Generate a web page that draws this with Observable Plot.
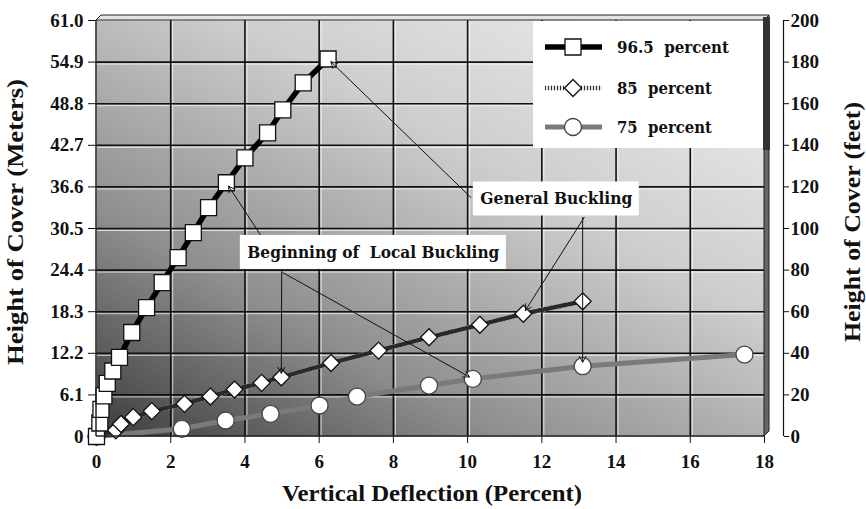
<!DOCTYPE html>
<html><head><meta charset="utf-8">
<script src="https://cdn.jsdelivr.net/npm/d3@7"></script>
<script src="https://cdn.jsdelivr.net/npm/@observablehq/plot@0.6"></script>
<style>html,body{margin:0;padding:0;background:#fff;}</style>
</head><body><div id="chart"></div>
<script>
// ---------- data (x: vertical deflection %, y: height of cover in feet) ----------
const x965 = [0, 0.09, 0.12, 0.2, 0.29, 0.44, 0.62, 0.95, 1.35, 1.77, 2.2, 2.61, 3.02, 3.5, 4.0, 4.61, 5.02, 5.57, 6.24];
const y965 = [0, 6.5, 13, 19.5, 25.5, 31.5, 38, 50, 62, 74, 86, 98, 110, 122, 134, 146, 157, 170, 181.5];
const x85 = [0, 0.52, 0.66, 0.99, 1.49, 2.37, 3.07, 3.72, 4.45, 4.98, 6.32, 7.6, 8.96, 10.33, 11.5, 13.1];
const y85 = [0, 3, 6, 9.3, 12.2, 15.7, 19.2, 22.6, 25.8, 28.5, 35.3, 41.3, 47.7, 53.7, 59, 65];
const x75 = [0, 2.3, 3.48, 4.69, 6.01, 7.02, 8.96, 10.14, 13.1, 17.46];
const y75 = [0, 3.7, 7.7, 10.9, 14.9, 19.2, 24.5, 27.7, 33.8, 39.4];
const seriesNames = ["96.5  percent", "85  percent", "75  percent"];

const xTicks = [0, 2, 4, 6, 8, 10, 12, 14, 16, 18];
const feetTicks = [0, 20, 40, 60, 80, 100, 120, 140, 160, 180, 200];
const meterLabels = ["0", "6.1", "12.2", "18.3", "24.4", "30.5", "36.6", "42.7", "48.8", "54.9", "61.0"];
const feetLabels = ["0", "20", "40", "60", "80", "100", "120", "140", "160", "180", "200"];
const gridX = [2, 4, 6, 8, 10, 12, 14, 16];
const gridFt = [20, 40, 60, 80, 100, 120, 140, 160, 180];

const xTitle = "Vertical Deflection (Percent)";
const yLeftTitle = "Height of Cover (Meters)";
const yRightTitle = "Height of Cover (feet)";

// annotations (positions in data units)
const noteText = ["General Buckling", "Beginning of  Local Buckling"];
const noteX = [12.39, 7.46];
const noteY = [114.2, 88.5];
// arrows: start point (data units) and target point (series, index)
const arrowFromX = [10.09, 13.14, 13.1, 4.43, 4.99, 5.02];
const arrowFromY = [114.9, 105.3, 105.3, 96.6, 79.3, 78.8];
const arrowToSeries = ["96.5", "85", "75", "96.5", "85", "75"];
const arrowToIndex = [18, 14, 8, 13, 9, 7];

// ---------- build ----------
const SERIF = "Liberation Serif, Times New Roman, Tinos, Times, serif";
const NOTEFONT = "DejaVu Serif, serif";
const mk = (xs, ys, s) => xs.map((x, i) => ({x, y: ys[i], s}));
const d965 = mk(x965, y965, "96.5"), d85 = mk(x85, y85, "85"), d75 = mk(x75, y75, "75");
const bySeries = {"96.5": d965, "85": d85, "75": d75};
const arrows = arrowFromX.map((x1, i) => {
  const t = bySeries[arrowToSeries[i]][arrowToIndex[i]];
  return {x1, y1: arrowFromY[i], x2: t.x, y2: t.y};
});
const notes = noteText.map((text, i) => ({text, x: noteX[i], y: noteY[i]}));

const squareSym = {draw(ctx, size) { const r = Math.sqrt(size / Math.PI); ctx.rect(-r, -r, 2 * r, 2 * r); }};
const diamondSym = {draw(ctx, size) { const r = Math.sqrt(size / Math.PI); ctx.moveTo(0, -r); ctx.lineTo(r, 0); ctx.lineTo(0, r); ctx.lineTo(-r, 0); ctx.closePath(); }};

const style965 = {line: {stroke: "#000", strokeWidth: 5.5}, dot: {symbol: squareSym, r: 8, fill: "#fff", stroke: "#111", strokeWidth: 1.3}};
const style85 = {under: {stroke: "#e6e6e6", strokeWidth: 4.5}, line: {stroke: "#2a2a2a", strokeWidth: 4.5, strokeDasharray: "1,2"}, dot: {symbol: diamondSym, r: 8.5, fill: "#fff", stroke: "#111", strokeWidth: 1.3}};
const style75 = {line: {stroke: "#7a7a7a", strokeWidth: 5}, dot: {symbol: "circle", r: 8.5, fill: "#fff", stroke: "#444", strokeWidth: 1.3}};

const TICKFONT = 19;
const plot = Plot.plot({
  width: 866, height: 509,
  marginLeft: 96, marginRight: 102, marginTop: 20, marginBottom: 73,
  x: {domain: [0, 18]},
  y: {domain: [0, 200]},
  style: {fontFamily: SERIF, fontSize: "19px", fontWeight: "bold", background: "#fff", color: "#111", overflow: "visible"},
  marks: [
    Plot.frame({fill: "url(#bgGrad)", stroke: "none"}),
    Plot.ruleY(gridFt, {stroke: "#fff", strokeOpacity: 0.7, strokeWidth: 1, dy: 2}),
    Plot.ruleX(gridX, {stroke: "#fff", strokeOpacity: 0.7, strokeWidth: 1, dx: 2}),
    Plot.ruleY(gridFt, {stroke: "#111", strokeWidth: 1.6}),
    Plot.ruleX(gridX, {stroke: "#111", strokeWidth: 1.6}),
    Plot.axisY({anchor: "left", ticks: feetTicks, tickFormat: d => meterLabels[feetTicks.indexOf(d)], tickSize: 8, tickPadding: 5, fontSize: TICKFONT, label: null}),
    Plot.axisY({anchor: "right", ticks: feetTicks, tickFormat: d => feetLabels[feetTicks.indexOf(d)], tickSize: 5, tickPadding: 2, fontSize: TICKFONT, dx: 19, label: null}),
    Plot.ruleX([18], {dx: 19, stroke: "#111", strokeWidth: 1.2}),
    Plot.axisX({ticks: xTicks, tickSize: 7, tickPadding: 11, fontSize: TICKFONT, label: null}),
    Plot.line(d75, {x: "x", y: "y", ...style75.line}),
    Plot.line(d85, {x: "x", y: "y", ...style85.under}),
    Plot.line(d85, {x: "x", y: "y", ...style85.line}),
    Plot.line(d965, {x: "x", y: "y", ...style965.line}),
    Plot.dot(d75, {x: "x", y: "y", ...style75.dot}),
    Plot.dot(d85, {x: "x", y: "y", ...style85.dot}),
    Plot.dot(d965, {x: "x", y: "y", ...style965.dot}),
    Plot.arrow(arrows, {x1: "x1", y1: "y1", x2: "x2", y2: "y2", stroke: "#111", strokeWidth: 1, headLength: 10, insetEnd: 4}),
    Plot.text(notes, {x: "x", y: "y", text: "text", fontFamily: NOTEFONT, fontSize: 17, fontWeight: "bold", fill: "#111", lineAnchor: "middle"})
  ]
});
document.getElementById("chart").appendChild(plot);

// ---------- decorations ----------
const svg = d3.select(plot);
const sx = plot.scale("x"), sy = plot.scale("y");
const X = d3.scaleLinear(sx.domain, sx.range), Y = d3.scaleLinear(sy.domain, sy.range);
const x0 = X(0), x1 = X(18), yT = Y(200), yB = Y(0);

const defs = svg.insert("defs", ":first-child");
const g = defs.append("linearGradient").attr("id", "bgGrad")
  .attr("x1", 0).attr("y1", 1).attr("x2", 0.9).attr("y2", 0);
[[0, "#3c3c3c"], [0.3, "#8e8e8e"], [0.65, "#cdcdcd"], [1, "#ededed"]]
  .forEach(([o, c]) => g.append("stop").attr("offset", o).attr("stop-color", c));

// annotation boxes
const noteWidths = [152, 252];
const textGroup = svg.selectAll("g[aria-label='text']").filter(function() { return this.textContent.includes("Buckling"); }).node();
d3.select(textGroup).selectAll("text").attr("textLength", (d, i) => noteWidths[i]).attr("lengthAdjust", "spacingAndGlyphs").style("white-space", "pre");
const boxG = d3.select(plot).insert("g", () => textGroup);
notes.forEach((n, i) => {
  boxG.append("rect").attr("x", X(n.x) - noteWidths[i] / 2 - 7).attr("y", Y(n.y) - 17)
    .attr("width", noteWidths[i] + 14).attr("height", 34).attr("fill", "#fff");
});

// 3D frame
const deco = svg.append("g");
deco.append("line").attr("x1", x0).attr("x2", x0).attr("y1", yT).attr("y2", yB).attr("stroke", "#222").attr("stroke-width", 1.5);
deco.append("line").attr("x1", x0).attr("x2", x1).attr("y1", yB).attr("y2", yB).attr("stroke", "#222").attr("stroke-width", 1.5);
deco.append("polygon").attr("points", [[x0, yT], [x0 + 5, yT - 5], [x1 + 5, yT - 5], [x1, yT]].join(" "))
  .attr("fill", "#e4e4e4").attr("stroke", "#222").attr("stroke-width", 1);
deco.append("polygon").attr("points", [[x1, yT], [x1 + 5, yT - 5], [x1 + 5, yB - 5], [x1, yB]].join(" "))
  .attr("fill", "#666").attr("stroke", "#222").attr("stroke-width", 1);

// legend
const leg = svg.append("g").attr("text-anchor", "start");
leg.append("rect").attr("x", 533).attr("y", yT + 1).attr("width", x1 - 533).attr("height", 127).attr("fill", "#fff");
leg.append("rect").attr("x", x1 - 1).attr("y", yT - 3).attr("width", 7).attr("height", 133).attr("fill", "#333");
const rows = [47, 88, 127];
const legW = [112, 95, 95];
const styles = [style965, style85, style75];
const symPath = [
  r => `M${-r},${-r}h${2 * r}v${2 * r}h${-2 * r}Z`,
  r => `M0,${-r}L${r},0L0,${r}L${-r},0Z`,
  r => d3.arc()({innerRadius: 0, outerRadius: r, startAngle: 0, endAngle: 2 * Math.PI})
];
seriesNames.forEach((name, i) => {
  const st = styles[i];
  if (st.under) leg.append("line").attr("x1", 545).attr("x2", 602).attr("y1", rows[i]).attr("y2", rows[i])
    .attr("stroke", st.under.stroke).attr("stroke-width", st.under.strokeWidth);
  leg.append("line").attr("x1", 545).attr("x2", 602).attr("y1", rows[i]).attr("y2", rows[i])
    .attr("stroke", st.line.stroke).attr("stroke-width", st.line.strokeWidth)
    .attr("stroke-dasharray", st.line.strokeDasharray || null);
  leg.append("path").attr("transform", `translate(573,${rows[i]})`).attr("d", symPath[i](st.dot.r))
    .attr("fill", "#fff").attr("stroke", st.dot.stroke).attr("stroke-width", st.dot.strokeWidth);
  leg.append("text").attr("x", 617).attr("y", rows[i] + 6).text(name)
    .attr("font-family", NOTEFONT).attr("font-size", 17).attr("font-weight", "bold").attr("text-anchor", "start")
    .attr("textLength", legW[i]).attr("lengthAdjust", "spacingAndGlyphs").style("white-space", "pre").attr("fill", "#111");
});

// axis titles
const tf = sel => sel.attr("font-family", SERIF).attr("font-size", 23).attr("font-weight", "bold")
  .attr("text-anchor", "middle").attr("fill", "#111").attr("lengthAdjust", "spacingAndGlyphs");
tf(svg.append("text").attr("x", 432).attr("y", 501).text(xTitle).attr("textLength", 300));
tf(svg.append("text").attr("transform", "translate(23,222) rotate(-90)").text(yLeftTitle).attr("textLength", 286));
tf(svg.append("text").attr("transform", "translate(860,222) rotate(-90)").text(yRightTitle).attr("textLength", 240));
</script>
</body></html>
